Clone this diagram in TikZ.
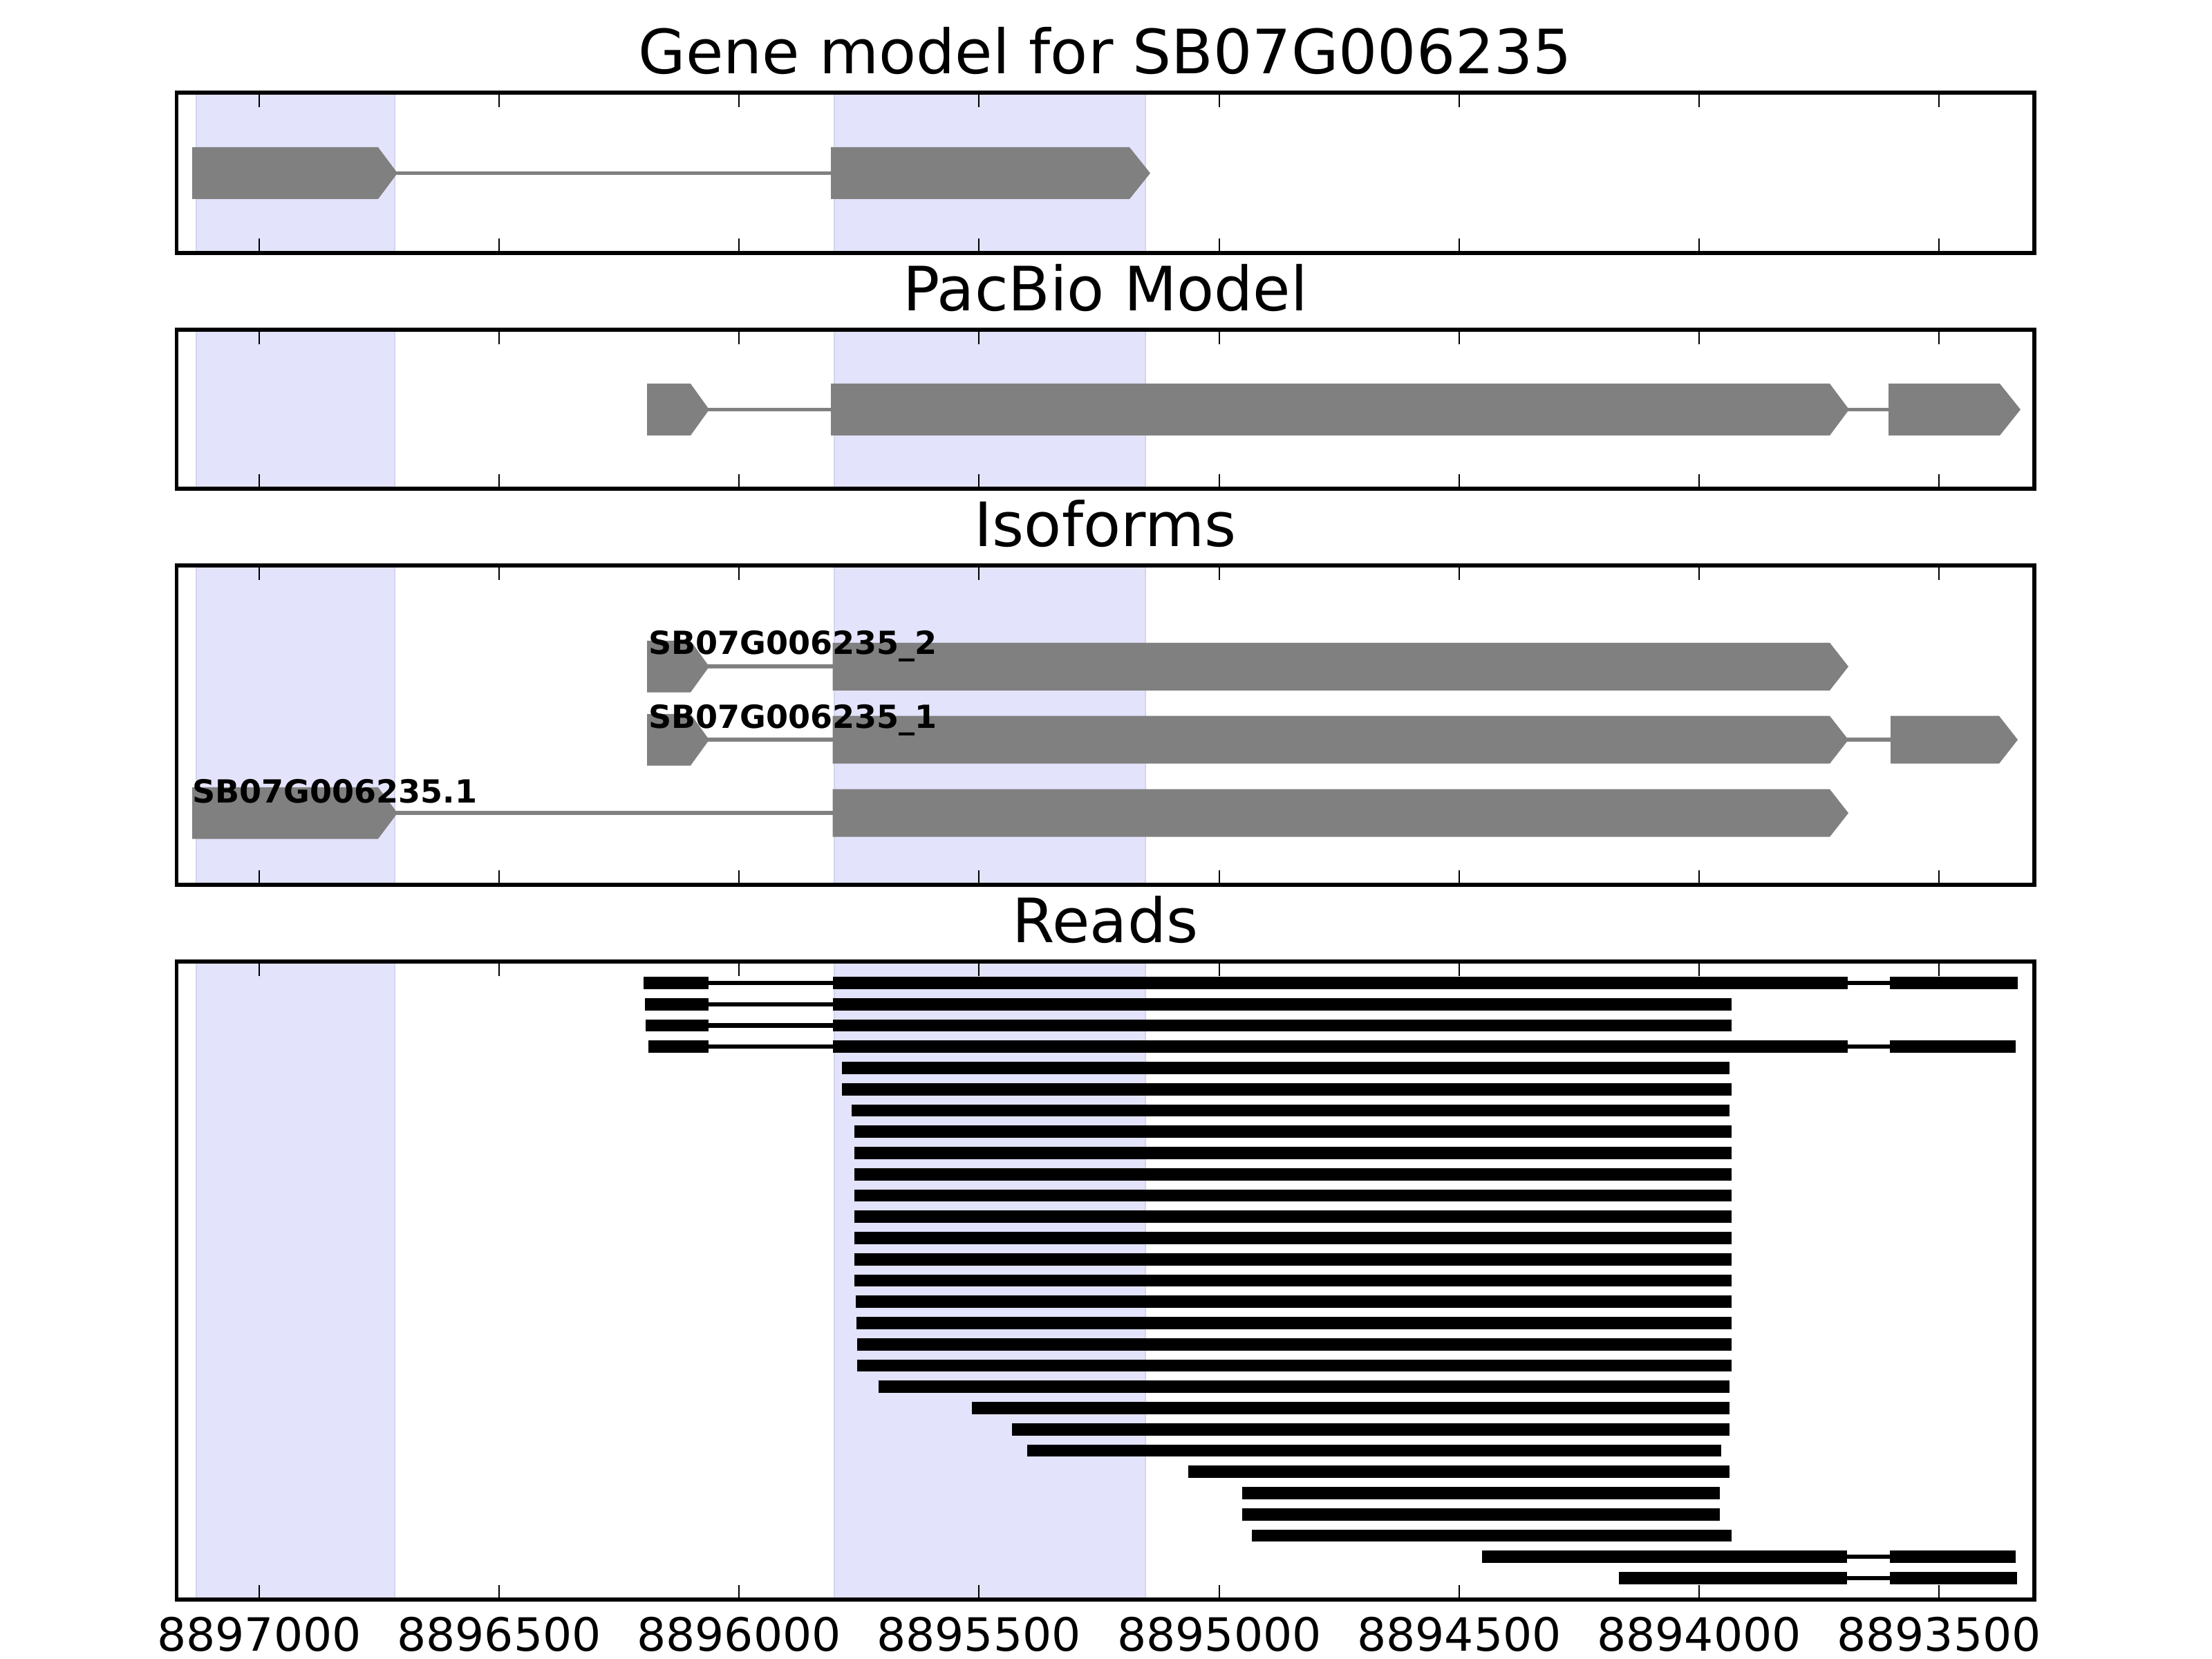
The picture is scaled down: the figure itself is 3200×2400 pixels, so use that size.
\documentclass[tikz,border=0pt]{standalone}
\usepackage{fontspec}
\setmainfont{DejaVu Sans}
\definecolor{exongray}{RGB}{128,128,128}
\definecolor{bandfill}{RGB}{227,227,252}
\definecolor{bandedge}{RGB}{212,212,238}
\tikzset{
  exonshape/.style={fill=exongray},
  intronline/.style={draw=exongray, line width=1.05pt},
  readbar/.style={fill=black},
  readintron/.style={draw=black, line width=1.1pt},
  frameline/.style={draw=black, line width=1pt},
  tickmark/.style={draw=black, line width=0.5pt},
  paneltitle/.style={font=\fontsize{16}{19}\selectfont, anchor=base, inner sep=0pt},
  isolabel/.style={font=\fontsize{8.33}{10}\selectfont\bfseries, anchor=base west, inner sep=0pt},
  ticklabel/.style={font=\fontsize{12}{14}\selectfont, anchor=base, inner sep=0pt},
}
% exon: x-start, x-flat-end, x-tip, y-centre, half-height
\newcommand{\gexon}[5]{\fill[exonshape] (#1,{#4-#5}) -- (#2,{#4-#5}) -- (#3,#4) -- (#2,{#4+#5}) -- (#1,{#4+#5}) -- cycle;}
% background bands of a panel: top, bottom
\newcommand{\panelbands}[2]{%
  \fill[bandfill] (284,#1) rectangle (571,#2);
  \fill[bandfill] (1207,#1) rectangle (1657,#2);
  \foreach \bx in {284,571,1207,1657} {\draw[bandedge, line width=0.4pt] (\bx,#1) -- (\bx,#2);}
}
% frame and ticks of a panel: top, bottom
\newcommand{\panelframe}[2]{%
  \foreach \tx in {375,722,1069,1416,1764,2111,2458,2805} {
    \draw[tickmark] (\tx,#1) -- (\tx,{#1+21});
    \draw[tickmark] (\tx,#2) -- (\tx,{#2-21});
  }
  \draw[frameline] (255.5,#1) rectangle (2943,#2);
}
\begin{document}
\begin{tikzpicture}[x=0.0025in, y=-0.0025in]
\useasboundingbox (0,0) rectangle (3200,2400);

% ---------- Panel 1: gene model ----------
\panelbands{134}{366}
\draw[intronline] (560,250.5) -- (1210,250.5);
\gexon{278}{547}{575}{250.5}{37.5}
\gexon{1202}{1634}{1664}{250.5}{37.5}
\panelframe{134}{366}
\node[paneltitle] (t1) at (1599,107) {Gene model for SB07G006235};

% ---------- Panel 2: PacBio model ----------
\panelbands{477}{707}
\draw[intronline] (1010,592.5) -- (1210,592.5);
\draw[intronline] (2660,592.5) -- (2740,592.5);
\gexon{936}{999}{1026}{592.5}{37.5}
\gexon{1202}{2647}{2675}{592.5}{37.5}
\gexon{2732}{2893}{2923}{592.5}{37.5}
\panelframe{477}{707}
\node[paneltitle] (t2) at (1599,449.5) {PacBio Model};

% ---------- Panel 3: isoforms ----------
\panelbands{818}{1280}
% row 1
\draw[intronline] (1010,964.3) -- (1210,964.3);
\gexon{936}{999}{1026}{964.3}{37.3}
\gexon{1204.5}{2647}{2674}{964.3}{34.5}
% row 2
\draw[intronline] (1010,1070.2) -- (1210,1070.2);
\draw[intronline] (2660,1070.2) -- (2740,1070.2);
\gexon{936}{999}{1026}{1070.2}{37.3}
\gexon{1204.5}{2647}{2674}{1070.2}{34.5}
\gexon{2735}{2892}{2919}{1070.2}{34.5}
% row 3
\draw[intronline] (560,1176.2) -- (1210,1176.2);
\gexon{278}{547}{575}{1176.2}{37.3}
\gexon{1204.5}{2647}{2674}{1176.2}{34.5}
\node[isolabel] (l1) at (937,946.7) {SB07G006235\_2};
\node[isolabel] (l2) at (937,1053.3) {SB07G006235\_1};
\node[isolabel] (l3) at (277,1161) {SB07G006235.1};
\panelframe{818}{1280}
\node[paneltitle] (t3) at (1599,790.5) {Isoforms};

% ---------- Panel 4: reads ----------
\panelbands{1391}{2314}
% spliced reads with three blocks
\foreach \r/\xa/\xc in {1/931/2919, 4/937.6/2916} {
  \draw[readintron] (1020,{1422+(\r-1)*30.75}) -- (1210,{1422+(\r-1)*30.75});
  \draw[readintron] (2665,{1422+(\r-1)*30.75}) -- (2740,{1422+(\r-1)*30.75});
  \fill[readbar] (\xa,{1422+(\r-1)*30.75-8.8}) rectangle (1025,{1422+(\r-1)*30.75+8.8});
  \fill[readbar] (1204.5,{1422+(\r-1)*30.75-8.8}) rectangle (2673,{1422+(\r-1)*30.75+8.8});
  \fill[readbar] (2734,{1422+(\r-1)*30.75-8.8}) rectangle (\xc,{1422+(\r-1)*30.75+8.8});
}
% spliced reads with two blocks (left intron)
\foreach \r/\xa in {2/933, 3/934} {
  \draw[readintron] (1020,{1422+(\r-1)*30.75}) -- (1210,{1422+(\r-1)*30.75});
  \fill[readbar] (\xa,{1422+(\r-1)*30.75-8.8}) rectangle (1025,{1422+(\r-1)*30.75+8.8});
  \fill[readbar] (1204.5,{1422+(\r-1)*30.75-8.8}) rectangle (2504.5,{1422+(\r-1)*30.75+8.8});
}
% spliced reads with two blocks (right intron)
\foreach \r/\xa/\xc in {28/2144/2916, 29/2342/2918} {
  \draw[readintron] (2665,{1422+(\r-1)*30.75}) -- (2740,{1422+(\r-1)*30.75});
  \fill[readbar] (\xa,{1422+(\r-1)*30.75-8.8}) rectangle (2672,{1422+(\r-1)*30.75+8.8});
  \fill[readbar] (2734,{1422+(\r-1)*30.75-8.8}) rectangle (\xc,{1422+(\r-1)*30.75+8.8});
}
% unspliced reads
\foreach \r/\xa/\xb in {5/1218/2501.6, 6/1218/2504.5, 7/1232/2501.6,
    8/1236/2504.5, 9/1236/2504.5, 10/1236/2504.5, 11/1236/2504.5,
    12/1236/2504.5, 13/1236/2504.5, 14/1236/2504.5, 15/1236/2504.5,
    16/1238/2504.5, 17/1239/2504.5, 18/1240/2504.5, 19/1240/2504.5,
    20/1270.5/2501.6, 21/1406/2501.6, 22/1464/2501.6, 23/1486/2490,
    24/1719/2501.6, 25/1796.6/2488, 26/1797/2488, 27/1811/2504.5} {
  \fill[readbar] (\xa,{1422+(\r-1)*30.75-8.8}) rectangle (\xb,{1422+(\r-1)*30.75+8.8});
}
\panelframe{1391}{2314}
\node[paneltitle] (t4) at (1599,1363.5) {Reads};

% ---------- x-axis tick labels ----------
\foreach \tx/\lab in {375/8897000, 722/8896500, 1069/8896000, 1416/8895500,
    1764/8895000, 2111/8894500, 2458/8894000, 2805/8893500} {
  \node[ticklabel] (x\lab) at (\tx,2388) {\lab};
}
\end{tikzpicture}
\end{document}
